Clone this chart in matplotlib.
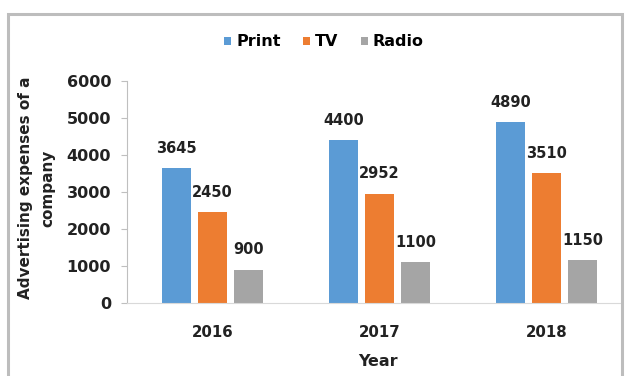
import matplotlib.pyplot as plt
import numpy as np
from matplotlib.patches import Rectangle

years = ["2016", "2017", "2018"]
series = ["Print", "TV", "Radio"]
print_vals = [3645, 4400, 4890]
tv_vals = [2450, 2952, 3510]
radio_vals = [900, 1100, 1150]
colors = ["#5B9BD5", "#ED7D31", "#A5A5A5"]

plt.rcParams['font.family'] = ['DejaVu Sans']
plt.rcParams['font.weight'] = 'bold'

W, H = 628, 376
fig = plt.figure(figsize=(W / 100, H / 100), dpi=100)
ax = fig.add_axes([127 / W, 1 - 303 / H, (621 - 127) / W, (303 - 81) / H])

x = np.arange(len(years))
width = 0.174
step = 0.2156
handles = []
for i, (name, vals) in enumerate(zip(series, [print_vals, tv_vals, radio_vals])):
    bars = ax.bar(x + (i - 1) * step, vals, width, color=colors[i], label=name)
    handles.append(bars)
    for b, v in zip(bars, vals):
        ax.annotate(str(v), (b.get_x() + b.get_width() / 2, v), xytext=(0, 9),
                    textcoords="offset points", ha="center", va="bottom",
                    fontsize=10.5, fontweight="bold", color="#222222")

ax.set_xlim(-0.512, 2.446)
ax.set_ylim(0, 6000)
ax.set_yticks(range(0, 6001, 1000))
ax.set_xticks(x)
ax.set_xticklabels(years)
for s in ["top", "right"]:
    ax.spines[s].set_visible(False)
ax.spines["left"].set_color("#BFBFBF")
ax.spines["bottom"].set_color("#D9D9D9")
ax.tick_params(axis="y", direction="out", length=4, color="#BFBFBF", labelsize=11.5,
               labelcolor="#222222", pad=7.5)
ax.tick_params(axis="x", length=0, labelsize=10.8, labelcolor="#222222", pad=16)

fig.text(37 / W, 1 - 188 / H, "Advertising expenses of a\ncompany", rotation=90,
         ha="center", va="center", fontsize=11, fontweight="bold", color="#222222",
         linespacing=1.6)
fig.text(378 / W, 1 - 362 / H, "Year", ha="center", va="center", fontsize=11.5,
         fontweight="bold", color="#222222")

fig.legend(handles=handles, labels=series, loc="center", bbox_to_anchor=(324 / W, 1 - 42 / H),
           ncol=3, frameon=False, handlelength=0.45, handleheight=0.45, handletextpad=0.3,
           columnspacing=1.4, prop={"size": 11.5, "weight": "bold"})

fig.patches.append(Rectangle((8 / W, -0.1), (622 - 8) / W, 1.1 - 14 / H, transform=fig.transFigure,
                             fill=False, edgecolor="#BDBDBD", linewidth=2.2))

fig.savefig("out.png", dpi=100)
